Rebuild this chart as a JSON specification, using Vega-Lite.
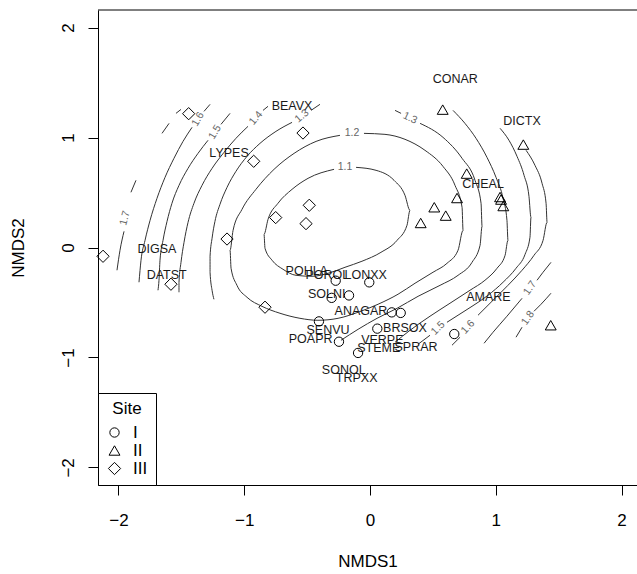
{
  "$schema": "https://vega.github.io/schema/vega-lite/v6.json",
  "width": 539,
  "height": 475,
  "autosize": "none",
  "padding": {"left": 98, "top": 10, "right": 0, "bottom": 89},
  "background": "white",
  "datasets": {
    "contours": [
      {"seg":"1.1","i":1,"x":-0.111,"y":0.729},{"seg":"1.1","i":2,"x":0.048,"y":0.702},{"seg":"1.1","i":3,"x":0.191,"y":0.611},{"seg":"1.1","i":4,"x":0.278,"y":0.475},{"seg":"1.1","i":5,"x":0.318,"y":0.338},{"seg":"1.1","i":6,"x":0.294,"y":0.202},{"seg":"1.1","i":7,"x":0.215,"y":0.065},{"seg":"1.1","i":8,"x":0.087,"y":-0.044},{"seg":"1.1","i":9,"x":-0.064,"y":-0.125},{"seg":"1.1","i":10,"x":-0.199,"y":-0.18},{"seg":"1.1","i":11,"x":-0.334,"y":-0.235},{"seg":"1.1","i":12,"x":-0.461,"y":-0.262},{"seg":"1.1","i":13,"x":-0.588,"y":-0.253},{"seg":"1.1","i":14,"x":-0.692,"y":-0.198},{"seg":"1.1","i":15,"x":-0.779,"y":-0.116},{"seg":"1.1","i":16,"x":-0.835,"y":-0.007},{"seg":"1.1","i":17,"x":-0.843,"y":0.12},{"seg":"1.1","i":18,"x":-0.811,"y":0.256},{"seg":"1.1","i":19,"x":-0.732,"y":0.402},{"seg":"1.1","i":20,"x":-0.62,"y":0.529},{"seg":"1.1","i":21,"x":-0.493,"y":0.629},{"seg":"1.1","i":22,"x":-0.286,"y":0.711},

      {"seg":"1.2","i":1,"x":-0.048,"y":1.038},{"seg":"1.2","i":2,"x":0.119,"y":1.029},{"seg":"1.2","i":3,"x":0.278,"y":0.984},{"seg":"1.2","i":4,"x":0.437,"y":0.884},{"seg":"1.2","i":5,"x":0.58,"y":0.738},{"seg":"1.2","i":6,"x":0.676,"y":0.565},{"seg":"1.2","i":7,"x":0.732,"y":0.365},{"seg":"1.2","i":8,"x":0.74,"y":0.156},{"seg":"1.2","i":9,"x":0.7,"y":-0.025},{"seg":"1.2","i":10,"x":0.612,"y":-0.144},{"seg":"1.2","i":11,"x":0.501,"y":-0.225},{"seg":"1.2","i":12,"x":0.358,"y":-0.325},{"seg":"1.2","i":13,"x":0.223,"y":-0.425},{"seg":"1.2","i":14,"x":0.064,"y":-0.516},{"seg":"1.2","i":15,"x":-0.095,"y":-0.589},{"seg":"1.2","i":16,"x":-0.254,"y":-0.644},{"seg":"1.2","i":17,"x":-0.414,"y":-0.662},{"seg":"1.2","i":18,"x":-0.557,"y":-0.644},{"seg":"1.2","i":19,"x":-0.716,"y":-0.598},{"seg":"1.2","i":20,"x":-0.859,"y":-0.535},{"seg":"1.2","i":21,"x":-0.978,"y":-0.453},{"seg":"1.2","i":22,"x":-1.058,"y":-0.344},{"seg":"1.2","i":23,"x":-1.105,"y":-0.189},{"seg":"1.2","i":24,"x":-1.113,"y":-0.025},{"seg":"1.2","i":25,"x":-1.089,"y":0.156},{"seg":"1.2","i":26,"x":-1.018,"y":0.347},{"seg":"1.2","i":27,"x":-0.907,"y":0.529},{"seg":"1.2","i":28,"x":-0.763,"y":0.711},{"seg":"1.2","i":29,"x":-0.604,"y":0.856},{"seg":"1.2","i":30,"x":-0.429,"y":0.965},{"seg":"1.2","i":31,"x":-0.239,"y":1.02},

      {"seg":"1.3t","i":1,"x":-0.469,"y":1.247},{"seg":"1.3t","i":2,"x":-0.398,"y":1.302},
      {"seg":"1.3a","i":1,"x":-0.62,"y":1.138},{"seg":"1.3a","i":2,"x":-0.748,"y":1.056},{"seg":"1.3a","i":3,"x":-0.875,"y":0.947},{"seg":"1.3a","i":4,"x":-0.978,"y":0.829},{"seg":"1.3a","i":5,"x":-1.066,"y":0.693},{"seg":"1.3a","i":6,"x":-1.137,"y":0.547},{"seg":"1.3a","i":7,"x":-1.193,"y":0.393},{"seg":"1.3a","i":8,"x":-1.233,"y":0.238},{"seg":"1.3a","i":9,"x":-1.256,"y":0.084},{"seg":"1.3a","i":10,"x":-1.272,"y":-0.08},{"seg":"1.3a","i":11,"x":-1.272,"y":-0.225},{"seg":"1.3a","i":12,"x":-1.256,"y":-0.389},{"seg":"1.3a","i":13,"x":-1.241,"y":-0.471},
      {"seg":"1.3p","i":1,"x":0.199,"y":1.247},{"seg":"1.3p","i":2,"x":0.247,"y":1.22},
      {"seg":"1.3b","i":1,"x":0.398,"y":1.129},{"seg":"1.3b","i":2,"x":0.58,"y":1.002},{"seg":"1.3b","i":3,"x":0.732,"y":0.811},{"seg":"1.3b","i":4,"x":0.835,"y":0.611},{"seg":"1.3b","i":5,"x":0.883,"y":0.402},{"seg":"1.3b","i":6,"x":0.891,"y":0.193},{"seg":"1.3b","i":7,"x":0.875,"y":0.02},{"seg":"1.3b","i":8,"x":0.811,"y":-0.135},{"seg":"1.3b","i":9,"x":0.7,"y":-0.253},{"seg":"1.3b","i":10,"x":0.557,"y":-0.344},{"seg":"1.3b","i":11,"x":0.382,"y":-0.444},{"seg":"1.3b","i":12,"x":0.215,"y":-0.553},{"seg":"1.3b","i":13,"x":0.056,"y":-0.644},{"seg":"1.3b","i":14,"x":-0.095,"y":-0.744},{"seg":"1.3b","i":15,"x":-0.231,"y":-0.844},

      {"seg":"1.4t","i":1,"x":-0.851,"y":1.247},{"seg":"1.4t","i":2,"x":-0.811,"y":1.284},
      {"seg":"1.4a","i":1,"x":-0.97,"y":1.102},{"seg":"1.4a","i":2,"x":-1.066,"y":0.993},{"seg":"1.4a","i":3,"x":-1.161,"y":0.865},{"seg":"1.4a","i":4,"x":-1.256,"y":0.72},{"seg":"1.4a","i":5,"x":-1.336,"y":0.565},{"seg":"1.4a","i":6,"x":-1.4,"y":0.402},{"seg":"1.4a","i":7,"x":-1.447,"y":0.229},{"seg":"1.4a","i":8,"x":-1.479,"y":0.047},{"seg":"1.4a","i":9,"x":-1.503,"y":-0.135},{"seg":"1.4a","i":10,"x":-1.519,"y":-0.316},{"seg":"1.4a","i":11,"x":-1.519,"y":-0.407},
      {"seg":"1.4b","i":1,"x":0.66,"y":1.247},{"seg":"1.4b","i":2,"x":0.755,"y":1.129},{"seg":"1.4b","i":3,"x":0.843,"y":0.993},{"seg":"1.4b","i":4,"x":0.93,"y":0.82},{"seg":"1.4b","i":5,"x":1.002,"y":0.638},{"seg":"1.4b","i":6,"x":1.058,"y":0.447},{"seg":"1.4b","i":7,"x":1.089,"y":0.247},{"seg":"1.4b","i":8,"x":1.097,"y":0.065},{"seg":"1.4b","i":9,"x":1.074,"y":-0.071},{"seg":"1.4b","i":10,"x":1.01,"y":-0.189},{"seg":"1.4b","i":11,"x":0.914,"y":-0.298},{"seg":"1.4b","i":12,"x":0.795,"y":-0.389},{"seg":"1.4b","i":13,"x":0.636,"y":-0.507},{"seg":"1.4b","i":14,"x":0.477,"y":-0.625},{"seg":"1.4b","i":15,"x":0.318,"y":-0.753},{"seg":"1.4b","i":16,"x":0.199,"y":-0.862},

      {"seg":"1.5t","i":1,"x":-1.185,"y":1.12},{"seg":"1.5t","i":2,"x":-1.113,"y":1.22},
      {"seg":"1.5a","i":1,"x":-1.288,"y":0.975},{"seg":"1.5a","i":2,"x":-1.368,"y":0.856},{"seg":"1.5a","i":3,"x":-1.447,"y":0.72},{"seg":"1.5a","i":4,"x":-1.519,"y":0.565},{"seg":"1.5a","i":5,"x":-1.575,"y":0.402},{"seg":"1.5a","i":6,"x":-1.614,"y":0.238},{"seg":"1.5a","i":7,"x":-1.646,"y":0.065},{"seg":"1.5a","i":8,"x":-1.67,"y":-0.116},{"seg":"1.5a","i":9,"x":-1.678,"y":-0.298},{"seg":"1.5a","i":10,"x":-1.686,"y":-0.389},
      {"seg":"1.5b","i":1,"x":1.034,"y":1.084},{"seg":"1.5b","i":2,"x":1.105,"y":0.975},{"seg":"1.5b","i":3,"x":1.169,"y":0.829},{"seg":"1.5b","i":4,"x":1.225,"y":0.656},{"seg":"1.5b","i":5,"x":1.264,"y":0.465},{"seg":"1.5b","i":6,"x":1.28,"y":0.275},{"seg":"1.5b","i":7,"x":1.272,"y":0.093},{"seg":"1.5b","i":8,"x":1.233,"y":-0.062},{"seg":"1.5b","i":9,"x":1.161,"y":-0.189},{"seg":"1.5b","i":10,"x":1.058,"y":-0.316},{"seg":"1.5b","i":11,"x":0.938,"y":-0.435},{"seg":"1.5b","i":12,"x":0.811,"y":-0.535},{"seg":"1.5b","i":13,"x":0.7,"y":-0.616},{"seg":"1.5b","i":14,"x":0.612,"y":-0.68},
      {"seg":"1.5c","i":1,"x":0.477,"y":-0.798},{"seg":"1.5c","i":2,"x":0.382,"y":-0.88},

      {"seg":"1.6t","i":1,"x":-1.32,"y":1.238},{"seg":"1.6t","i":2,"x":-1.272,"y":1.302},
      {"seg":"1.6a","i":1,"x":-1.415,"y":1.093},{"seg":"1.6a","i":2,"x":-1.487,"y":0.965},{"seg":"1.6a","i":3,"x":-1.559,"y":0.811},{"seg":"1.6a","i":4,"x":-1.63,"y":0.638},{"seg":"1.6a","i":5,"x":-1.694,"y":0.447},{"seg":"1.6a","i":6,"x":-1.749,"y":0.247},{"seg":"1.6a","i":7,"x":-1.789,"y":0.065},{"seg":"1.6a","i":8,"x":-1.821,"y":-0.116},{"seg":"1.6a","i":9,"x":-1.837,"y":-0.316},
      {"seg":"1.6b","i":1,"x":1.241,"y":0.884},{"seg":"1.6b","i":2,"x":1.312,"y":0.747},{"seg":"1.6b","i":3,"x":1.368,"y":0.584},{"seg":"1.6b","i":4,"x":1.4,"y":0.402},{"seg":"1.6b","i":5,"x":1.408,"y":0.229},{"seg":"1.6b","i":6,"x":1.376,"y":0.065},{"seg":"1.6b","i":7,"x":1.304,"y":-0.071},{"seg":"1.6b","i":8,"x":1.209,"y":-0.207},{"seg":"1.6b","i":9,"x":1.097,"y":-0.344},{"seg":"1.6b","i":10,"x":0.978,"y":-0.48},{"seg":"1.6b","i":11,"x":0.859,"y":-0.616},
      {"seg":"1.6c","i":1,"x":0.716,"y":-0.816},{"seg":"1.6c","i":2,"x":0.652,"y":-0.889},

      {"seg":"1.7p1","i":1,"x":-1.503,"y":1.256},{"seg":"1.7p1","i":2,"x":-1.543,"y":1.22},
      {"seg":"1.7p2","i":1,"x":-1.598,"y":1.129},{"seg":"1.7p2","i":2,"x":-1.654,"y":1.038},
      {"seg":"1.7p3","i":1,"x":-1.861,"y":0.611},{"seg":"1.7p3","i":2,"x":-1.901,"y":0.502},
      {"seg":"1.7p4","i":1,"x":-1.956,"y":0.147},{"seg":"1.7p4","i":2,"x":-1.988,"y":-0.025},{"seg":"1.7p4","i":3,"x":-2.012,"y":-0.207},
      {"seg":"1.7b","i":1,"x":1.439,"y":-0.135},{"seg":"1.7b","i":2,"x":1.376,"y":-0.225},{"seg":"1.7b","i":3,"x":1.328,"y":-0.298},
      {"seg":"1.7c","i":1,"x":1.209,"y":-0.462},{"seg":"1.7c","i":2,"x":1.089,"y":-0.625},{"seg":"1.7c","i":3,"x":0.978,"y":-0.771},{"seg":"1.7c","i":4,"x":0.907,"y":-0.871},

      {"seg":"1.8a","i":1,"x":1.439,"y":-0.416},{"seg":"1.8a","i":2,"x":1.36,"y":-0.516},{"seg":"1.8a","i":3,"x":1.304,"y":-0.58},
      {"seg":"1.8b","i":1,"x":1.209,"y":-0.725},{"seg":"1.8b","i":2,"x":1.161,"y":-0.816}
    ],
    "clabels": [
      {"lab":"1.1","x":-0.199,"y":0.731,"angle":0},
      {"lab":"1.2","x":-0.143,"y":1.04,"angle":0},
      {"lab":"1.3","x":-0.541,"y":1.195,"angle":-40},
      {"lab":"1.3","x":0.318,"y":1.177,"angle":25},
      {"lab":"1.4","x":-0.907,"y":1.177,"angle":-50},
      {"lab":"1.5","x":-1.233,"y":1.049,"angle":-58},
      {"lab":"1.5","x":0.541,"y":-0.733,"angle":-45},
      {"lab":"1.6","x":-1.368,"y":1.167,"angle":-60},
      {"lab":"1.6","x":0.779,"y":-0.723,"angle":-48},
      {"lab":"1.7","x":-1.948,"y":0.267,"angle":-75},
      {"lab":"1.7","x":1.272,"y":-0.369,"angle":-55},
      {"lab":"1.8","x":1.256,"y":-0.642,"angle":-55}
    ],
    "species": [
      {"name":"BEAVX","x":-0.62,"y":1.284},{"name":"LYPES","x":-1.121,"y":0.863},{"name":"DIGSA","x":-1.694,"y":-0.01},{"name":"DATST","x":-1.617,"y":-0.246},
      {"name":"CONAR","x":0.678,"y":1.536},{"name":"DICTX","x":1.209,"y":1.147},{"name":"CHEAL","x":0.899,"y":0.581},{"name":"AMARE","x":0.941,"y":-0.45},
      {"name":"POHLA","x":-0.503,"y":-0.213},{"name":"POROL","x":-0.34,"y":-0.253},{"name":"LONXX","x":-0.034,"y":-0.253},{"name":"SOLNI","x":-0.344,"y":-0.419},
      {"name":"ANAGAR","x":-0.072,"y":-0.577},{"name":"SENVU","x":-0.334,"y":-0.753},{"name":"POAPR","x":-0.472,"y":-0.832},{"name":"BRSOX","x":0.278,"y":-0.732},
      {"name":"VERPE","x":0.098,"y":-0.843},{"name":"STEME","x":0.069,"y":-0.91},{"name":"SPRAR","x":0.366,"y":-0.904},{"name":"SONOL","x":-0.209,"y":-1.116},{"name":"TRPXX","x":-0.106,"y":-1.183}
    ],
    "sites": [
      {"Site":"I","x":-0.273,"y":-0.302},{"Site":"I","x":-0.006,"y":-0.317},{"Site":"I","x":-0.305,"y":-0.458},{"Site":"I","x":-0.167,"y":-0.436},{"Site":"I","x":0.173,"y":-0.59},{"Site":"I","x":0.244,"y":-0.595},{"Site":"I","x":-0.406,"y":-0.672},{"Site":"I","x":0.058,"y":-0.738},{"Site":"I","x":-0.247,"y":-0.857},{"Site":"I","x":-0.095,"y":-0.959},{"Site":"I","x":0.67,"y":-0.787},
      {"Site":"II","x":0.578,"y":1.254},{"Site":"II","x":1.219,"y":0.936},{"Site":"II","x":0.769,"y":0.672},{"Site":"II","x":0.692,"y":0.45},{"Site":"II","x":0.511,"y":0.366},{"Site":"II","x":0.602,"y":0.29},{"Site":"II","x":0.403,"y":0.223},{"Site":"II","x":1.034,"y":0.459},{"Site":"II","x":1.042,"y":0.436},{"Site":"II","x":1.06,"y":0.377},{"Site":"II","x":1.437,"y":-0.707},
      {"Site":"III","x":-2.123,"y":-0.08},{"Site":"III","x":-1.442,"y":1.217},{"Site":"III","x":-0.533,"y":1.041},{"Site":"III","x":-0.925,"y":0.784},{"Site":"III","x":-0.75,"y":0.272},{"Site":"III","x":-0.483,"y":0.384},{"Site":"III","x":-0.509,"y":0.217},{"Site":"III","x":-1.137,"y":0.077},{"Site":"III","x":-1.583,"y":-0.334},{"Site":"III","x":-0.835,"y":-0.543}
    ]
  },
  "layer": [
    {
      "data": {"name": "contours"},
      "mark": {"type": "line", "color": "#333333", "strokeWidth": 1, "interpolate": "monotone"},
      "encoding": {
        "x": {"field": "x", "type": "quantitative", "title": "NMDS1", "scale": {"domain": [-2.163, 2.123], "nice": false, "zero": false}},
        "y": {"field": "y", "type": "quantitative", "title": "NMDS2", "scale": {"domain": [-2.16, 2.16], "nice": false, "zero": false}},
        "detail": {"field": "seg", "type": "nominal"},
        "order": {"field": "i", "type": "quantitative"}
      }
    },
    {
      "data": {"name": "clabels"},
      "mark": {"type": "text", "fontSize": 10.5, "color": "#666666", "align": "center", "baseline": "middle"},
      "encoding": {
        "x": {"field": "x", "type": "quantitative", "title": "NMDS1"},
        "y": {"field": "y", "type": "quantitative", "title": "NMDS2"},
        "text": {"field": "lab", "type": "nominal"},
        "angle": {"field": "angle", "type": "quantitative", "scale": null}
      }
    },
    {
      "data": {"name": "species"},
      "mark": {"type": "text", "fontSize": 12.5, "color": "#1a1a1a", "align": "center", "baseline": "middle"},
      "encoding": {
        "x": {"field": "x", "type": "quantitative", "title": "NMDS1"},
        "y": {"field": "y", "type": "quantitative", "title": "NMDS2"},
        "text": {"field": "name", "type": "nominal"}
      }
    },
    {
      "data": {"name": "sites"},
      "mark": {"type": "point", "filled": false, "color": "#000000", "strokeWidth": 1, "opacity": 1},
      "encoding": {
        "x": {"field": "x", "type": "quantitative", "title": "NMDS1"},
        "y": {"field": "y", "type": "quantitative", "title": "NMDS2"},
        "shape": {"field": "Site", "type": "nominal", "title": "Site", "scale": {"domain": ["I", "II", "III"], "range": ["circle", "triangle-up", "diamond"]}},
        "size": {"field": "Site", "type": "ordinal", "title": "Site", "scale": {"domain": ["I", "II", "III"], "range": [87, 150, 155]}}
      }
    },
    {
      "data": {"values": [{}]},
      "mark": {"type": "rule", "color": "#000000", "strokeWidth": 1},
      "encoding": {"y": {"datum": 2.16}}
    }
  ],
  "config": {
    "view": {"stroke": null},
    "font": "Liberation Sans",
    "axis": {"grid": false, "domainColor": "#000000", "tickColor": "#000000", "labelColor": "#000000", "titleColor": "#000000", "labelFontSize": 17, "titleFontSize": 17, "titleFontWeight": "normal", "tickSize": 10, "tickCount": 5, "labelFont": "Liberation Sans", "titleFont": "Liberation Sans"},
    "axisX": {"labelPadding": 17, "titlePadding": 25, "labelFlush": false},
    "axisY": {"labelAngle": -90, "labelAlign": "center", "labelBaseline": "bottom", "labelPadding": 11, "titlePadding": 32},
    "legend": {"orient": "bottom-left", "offset": 0, "strokeColor": "#000000", "fillColor": "#ffffff", "padding": 8, "titleFontSize": 17, "labelFontSize": 17, "titleFontWeight": "normal", "titleAnchor": "middle", "titleColor": "#000000", "labelColor": "#000000", "symbolStrokeColor": "#000000", "symbolStrokeWidth": 1, "symbolFillColor": "transparent", "labelOffset": 10, "rowPadding": 0, "titlePadding": 6, "cornerRadius": 0, "labelFont": "Liberation Sans", "titleFont": "Liberation Sans"}
  }
}
